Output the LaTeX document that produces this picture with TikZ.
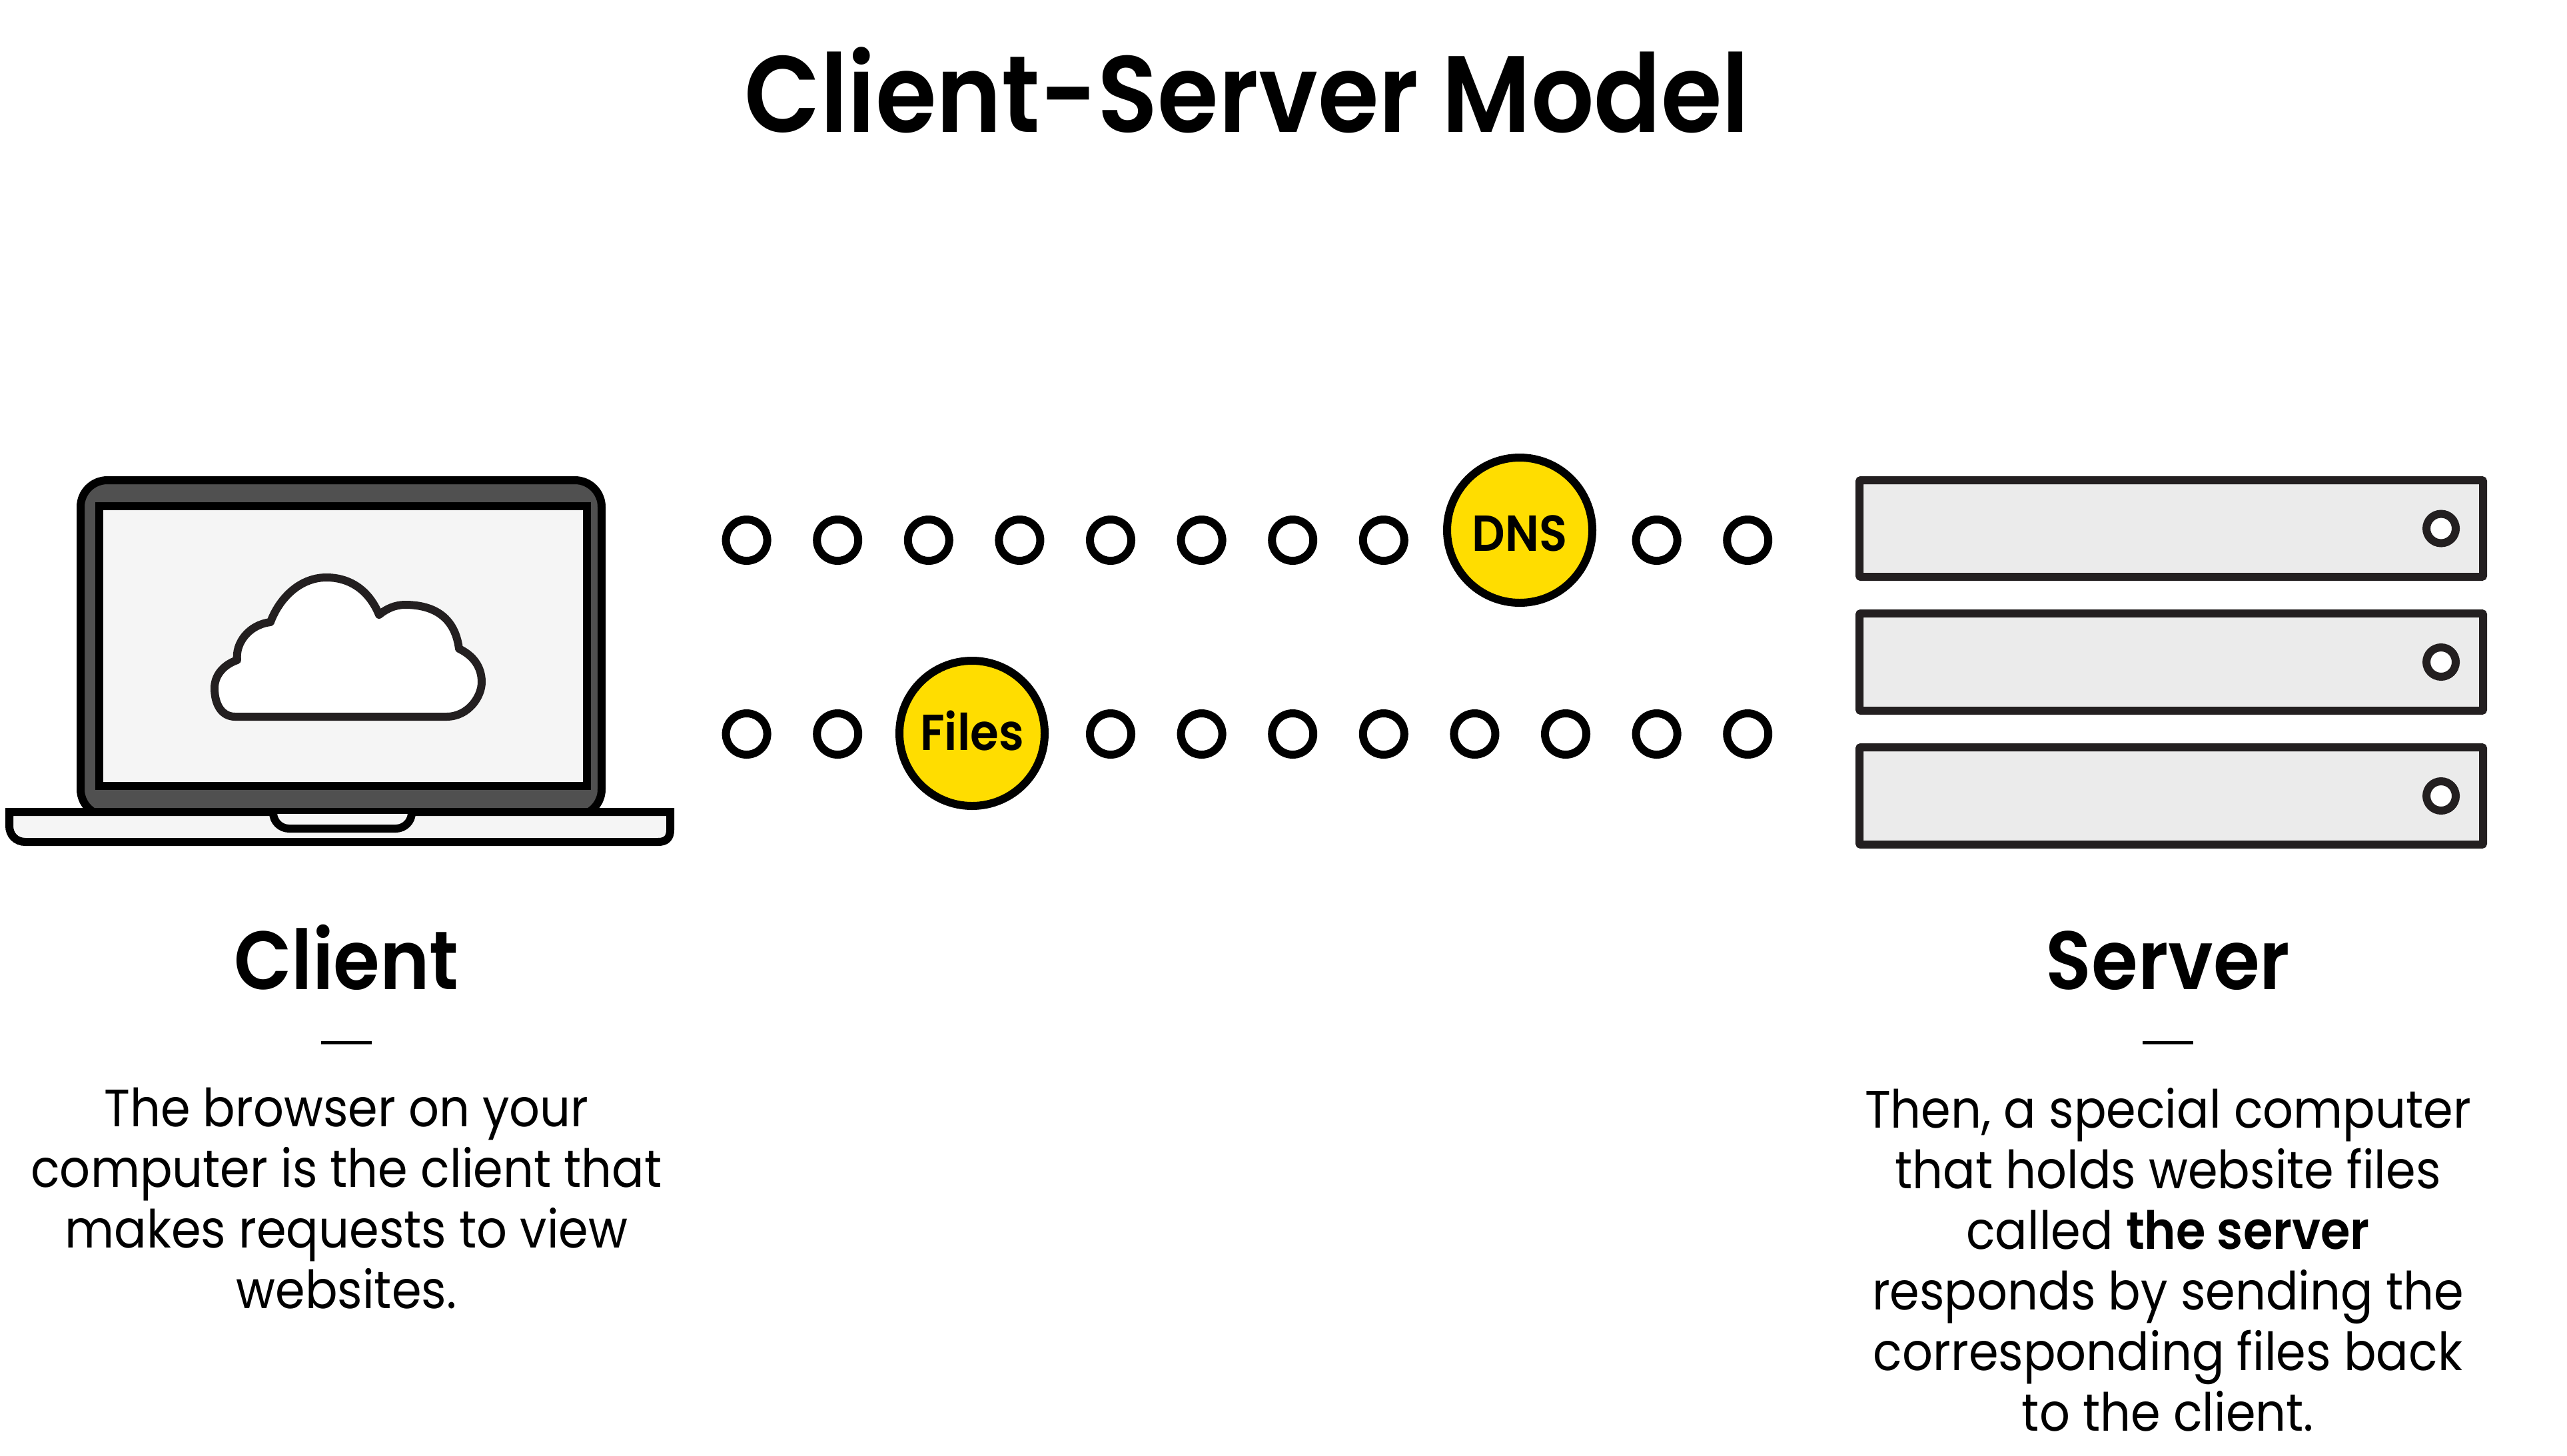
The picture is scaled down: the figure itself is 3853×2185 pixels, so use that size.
\documentclass[tikz,border=0pt]{standalone}
\usepackage{fontspec}
\setmainfont{Poppins}[FakeStretch=0.91,BoldFont={Poppins SemiBold}]
\newfontfamily\headfont{Poppins SemiBold}[FakeStretch=0.91]
\definecolor{ink}{HTML}{231F20}
\definecolor{lidgrey}{HTML}{505050}
\definecolor{screengrey}{HTML}{F5F5F5}
\definecolor{rackgrey}{HTML}{EBEBEB}
\definecolor{tokenyellow}{HTML}{FFDD00}
\tikzset{
  x=0.5pt,y=-0.5pt,
  rackbox/.style={draw=ink,line width=6pt,fill=rackgrey,rounded corners=1pt},
  led/.style={circle,draw=ink,line width=6pt,fill=white,minimum size=22pt,inner sep=0pt},
  pulse/.style={circle,draw=black,line width=6pt,fill=white,minimum size=31pt,inner sep=0pt},
  token/.style={circle,draw=black,line width=6pt,fill=tokenyellow,minimum size=109pt,inner sep=0pt,font=\fontsize{38}{40}\headfont},
  heading/.style={font=\fontsize{62}{70}\headfont,anchor=base},
  bodytext/.style={font=\fontsize{39.5}{45.5}\selectfont,align=center,anchor=north},
}
\begin{document}
\begin{tikzpicture}
\useasboundingbox (0,0) rectangle (3853,2185);
\fill[white] (0,0) rectangle (3853,2185);
\node[anchor=base,font=\fontsize{81.5}{90}\headfont] (title) at (1872,198) {Client-Server Model};
% laptop
\draw[black,line width=6pt,fill=lidgrey,rounded corners=20pt] (121,1225)--(121,721)--(903,721)--(903,1225)--cycle;
\draw[black,line width=6pt,fill=screengrey] (149,760) rectangle (881,1180);
\draw[black,line width=6pt,fill=screengrey,line join=miter]
  (14,1219) -- (1006,1219) -- (1006,1246)
  .. controls (1006,1258) and (1000,1264) .. (988,1264)
  -- (38,1264)
  .. controls (24,1264) and (14,1254) .. (14,1240) -- cycle;
\draw[black,line width=6pt,fill=screengrey,rounded corners=12pt] (410,1222)--(410,1244)--(618,1244)--(618,1222);
% cloud
\begin{scope}[shift={(-2,-4)}]
\draw[ink,line width=6pt,fill=white,line join=round]
 (355,1080) -- (672,1080)
 .. controls (705,1080) and (725,1050) .. (725,1028)
 .. controls (725,1005) and (712,988) .. (691,978)
 .. controls (685,932) and (655,912) .. (610,912)
 .. controls (595,912) and (582,918) .. (571,927)
 .. controls (555,888) and (525,871) .. (492,871)
 .. controls (450,871) and (420,905) .. (408,938)
 .. controls (375,942) and (355,970) .. (358,995)
 .. controls (335,1003) and (324,1020) .. (324,1037)
 .. controls (324,1062) and (335,1080) .. (355,1080) -- cycle;
\end{scope}
% server
\foreach \n/\t/\b in {a/721/866,b/921/1067,c/1122/1268}{
  \draw[rackbox] (2791,\t) rectangle (3727,\b);
  \node[led] (led\n) at (3664,{(\t+\b)/2}) {};
}
% dots
\foreach \i in {0,1,2,3,4,5,6,7,10,11}{
  \node[pulse] (u\i) at ({1120.6+136.6*\i},811) {};
}
\foreach \i in {0,1,4,5,6,7,8,9,10,11}{
  \node[pulse] (l\i) at ({1120.6+136.6*\i},1102) {};
}
\node[token] (dns) at (2281,796) {\raisebox{-15.5pt}[0pt][0pt]{DNS}};
\node[token] (files) at (1459,1101) {\raisebox{-12.5pt}[0pt][0pt]{Files}};
% labels
\node[heading] (client) at (520,1485) {Client};
\node[heading] (server) at (3254,1485) {Server};
\draw[black,line width=2.5pt] (482,1565) -- (558,1565);
\draw[black,line width=2.5pt] (3216,1565) -- (3292,1565);
\node[bodytext] (clienttext) at (520,1626) {The browser on your\\computer is the client that\\makes requests to view\\websites.};
\node[bodytext] (servertext) at (3254,1626) {Then, a special computer\\that holds website files\\called \textbf{the server}\\responds by sending the\\corresponding files back\\to the client.};
\end{tikzpicture}
\end{document}
